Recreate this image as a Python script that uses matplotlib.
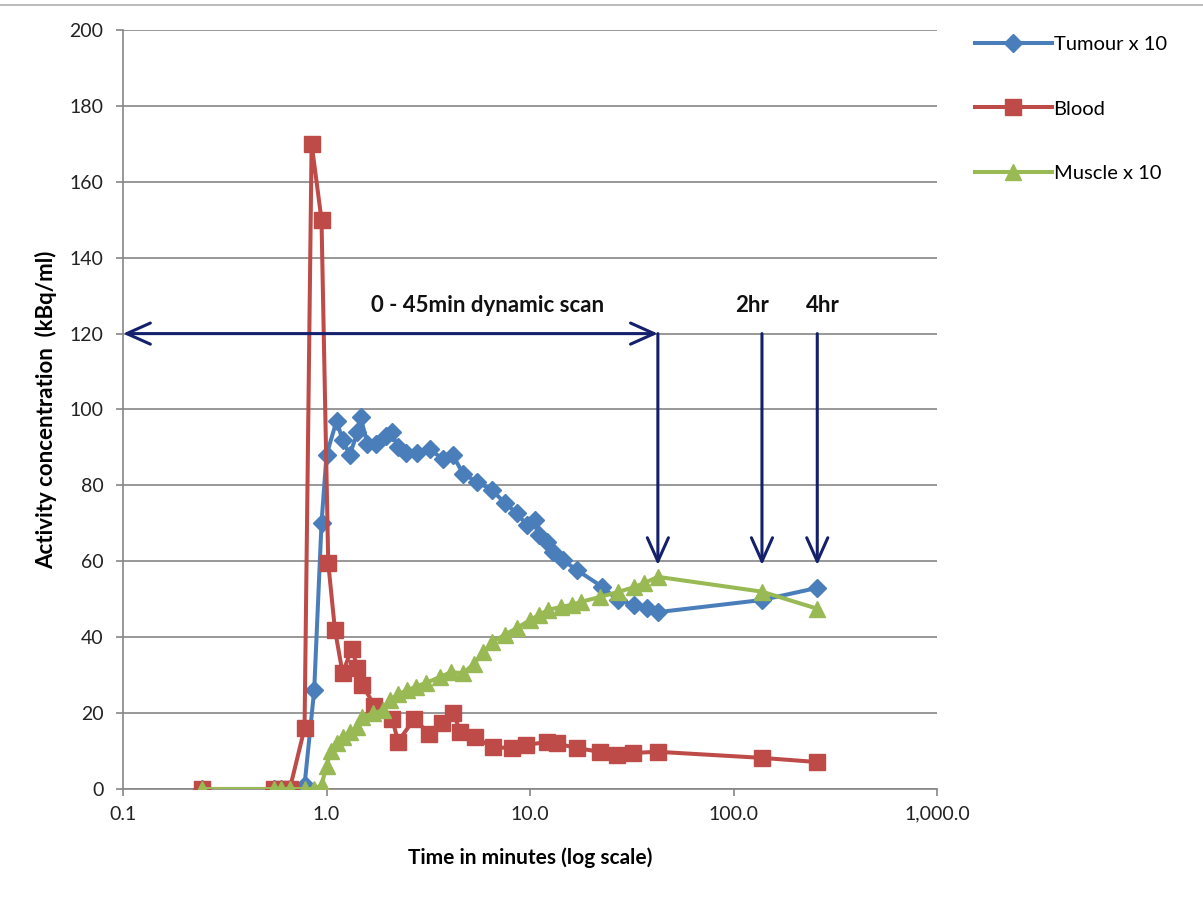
import matplotlib
matplotlib.use('Agg')
import matplotlib.pyplot as plt
from matplotlib.lines import Line2D

plt.rcParams['font.family'] = ['Lato', 'DejaVu Sans']

# time in minutes / activity (kBq/ml)
tumour_t = [0.245, 0.549, 0.60, 0.66, 0.78, 0.87, 0.945, 1.0, 1.12, 1.2, 1.3, 1.42, 1.47,
            1.59, 1.76, 1.97, 2.09, 2.24, 2.47, 2.77, 3.21, 3.72, 4.17, 4.7, 5.47, 6.49,
            7.52, 8.6, 9.63, 10.6, 11.1, 12.1, 12.9, 14.5, 17.0, 22.6, 27.0, 32.6, 37.5,
            42.5, 138, 258]
tumour_v = [0, 0, 0, 0, 1, 26, 70, 88, 97, 92, 88, 94, 98,
            91, 91, 93, 94, 90, 88.5, 88.5, 89.5, 87, 88, 83, 81, 78.8,
            75.4, 72.7, 69.6, 71, 67, 65, 62.5, 60.3, 57.7, 53.3, 49.8, 48.5, 47.7,
            46.6, 49.8, 53]

blood_t = [0.245, 0.549, 0.60, 0.66, 0.78, 0.845, 0.945, 1.02, 1.10, 1.2, 1.33, 1.42, 1.5,
           1.72, 2.1, 2.25, 2.7, 3.2, 3.7, 4.2, 4.55, 5.35, 6.55, 8.2, 9.6, 12.1, 13.5,
           17.0, 22.0, 26.7, 32.0, 42.5, 138, 258]
blood_v = [0, 0, 0, 0, 16, 170, 150, 59.5, 42, 30.5, 37, 32, 27.4,
           22, 18.5, 12.5, 18.5, 14.5, 17.5, 20, 15, 13.7, 11, 10.8, 11.6, 12.4, 12,
           10.8, 9.8, 9, 9.5, 9.8, 8.2, 7.1]

muscle_t = [0.245, 0.549, 0.60, 0.66, 0.78, 0.87, 0.945, 1.0, 1.05, 1.12, 1.2, 1.3, 1.42,
            1.5, 1.7, 1.9, 2.05, 2.25, 2.5, 2.75, 3.1, 3.6, 4.1, 4.7, 5.3, 5.9, 6.5,
            7.5, 8.6, 10.0, 11.1, 12.3, 14.2, 16.0, 17.8, 22.0, 27.0, 32.5, 36.5, 42.5,
            138, 258]
muscle_v = [0, 0, 0, 0, 0, 0, 1, 6, 10, 12, 13.7, 15, 16.3,
            19, 20, 20.8, 23.4, 25, 26, 27, 28, 29.5, 30.8, 30.5, 33, 36, 38.7,
            40.6, 42.4, 44.5, 45.9, 47.2, 48, 48.5, 49.3, 50.6, 51.9, 53.2, 54.3, 55.9,
            52, 47.5]

x_ticks = [0.1, 1, 10, 100, 1000]
x_tick_labels = ['0.1', '1.0', '10.0', '100.0', '1,000.0']
y_ticks = list(range(0, 201, 20))

scan_end = 42.5
marks = [(42.5, None), (138, '2hr'), (258, '4hr')]
mark_labels_x = {'2hr': 123, '4hr': 275}

grey = '#868686'
navy = '#14206b'

fig = plt.figure(figsize=(12.03, 8.99), dpi=100)
ax = fig.add_axes([123 / 1203, 1 - 789 / 899, (937 - 123) / 1203, (789 - 30) / 899])

ax.plot(tumour_t, tumour_v, color='#4a7ebb', lw=2.9, marker='D', ms=9,
        label='Tumour x 10', zorder=3)
ax.plot(blood_t, blood_v, color='#be4b48', lw=2.9, marker='s', ms=11,
        label='Blood', zorder=4)
ax.plot(muscle_t, muscle_v, color='#98b954', lw=2.9, marker='^', ms=11,
        label='Muscle x 10', zorder=5)

ax.set_xscale('log')
ax.set_xlim(0.1, 1000)
ax.set_ylim(0, 200)
ax.set_xticks(x_ticks)
ax.set_xticklabels(x_tick_labels)
ax.minorticks_off()
ax.set_yticks(y_ticks)

ax.grid(axis='y', color=grey, lw=1.2)
ax.set_axisbelow(True)
for s in ['top', 'right']:
    ax.spines[s].set_visible(False)
for s in ['left', 'bottom']:
    ax.spines[s].set_color(grey)
    ax.spines[s].set_linewidth(1.2)
ax.tick_params(axis='both', direction='out', length=5, color=grey, labelsize=14,
               labelcolor='#222222', width=1.2)
ax.tick_params(axis='x', pad=7)
ax.tick_params(axis='y', pad=9)

ax.set_xlabel('Time in minutes (log scale)', fontsize=15, fontweight='bold', labelpad=18)
ax.set_ylabel('Activity concentration  (kBq/ml)', fontsize=16, fontweight='bold', labelpad=9)

# scan arrows
ax.annotate('', xy=(0.1, 120), xytext=(scan_end, 120),
            arrowprops=dict(arrowstyle='<->,head_length=0.85,head_width=0.38',
                            mutation_scale=20, color=navy, lw=2.2, shrinkA=0, shrinkB=0),
            zorder=6)
for xm, lab in marks:
    ax.annotate('', xy=(xm, 59), xytext=(xm, 120),
                arrowprops=dict(arrowstyle='->,head_length=0.85,head_width=0.38',
                                mutation_scale=20, color=navy, lw=2.2, shrinkA=0, shrinkB=0),
                zorder=6)
    if lab:
        ax.text(mark_labels_x[lab], 127.5, lab, ha='center', va='center',
                fontsize=16, fontweight='bold', color='#111111')
ax.text(6.2, 127.5, '0 - 45min dynamic scan', ha='center', va='center',
        fontsize=16, fontweight='bold', color='#111111')

ax.legend(loc='upper left', bbox_to_anchor=(975 / 1203, 1 - 36 / 899),
          bbox_transform=fig.transFigure, frameon=False, fontsize=14.5,
          handlelength=3.8, handletextpad=0.1, labelspacing=2.35, borderpad=0,
          borderaxespad=0)

fig.add_artist(Line2D([0, 1], [1 - 5 / 899, 1 - 5 / 899], color='#b0b0b0', lw=1.2))

fig.savefig('out.png', dpi=100)
